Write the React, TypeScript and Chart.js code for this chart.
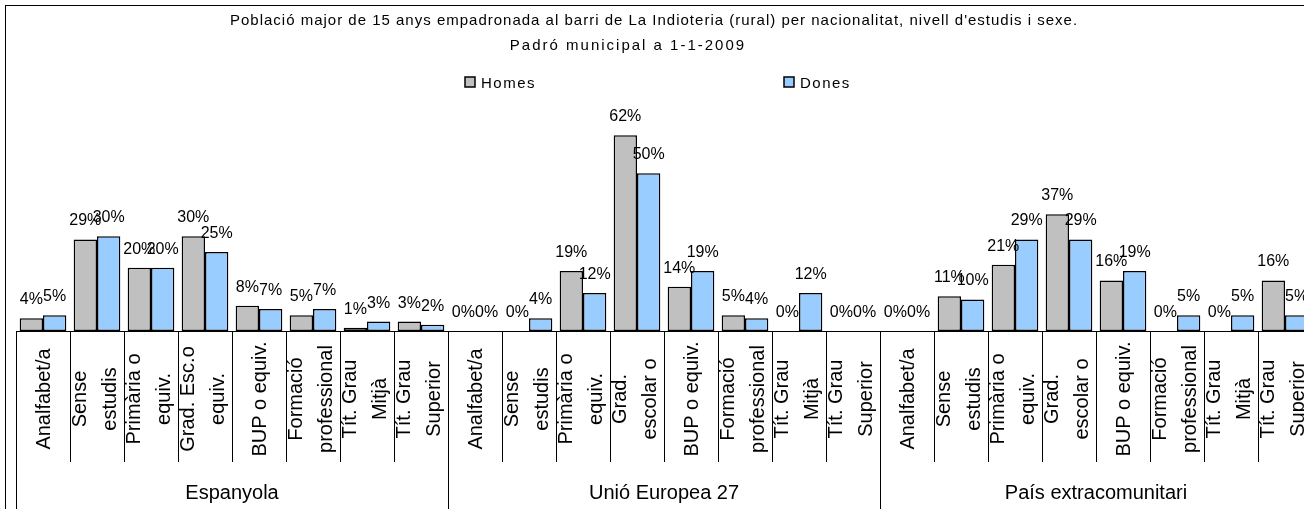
import React, { useEffect, useRef } from 'react';
import { Chart, registerables } from 'chart.js';

Chart.register(...registerables);

const titleLines = [
  "Població major de 15 anys empadronada al barri de La Indioteria (rural) per nacionalitat, nivell d'estudis i sexe.",
  'Padró municipal a 1-1-2009',
];
const seriesNames = ['Homes', 'Dones'];
const seriesColors = ['#C0C0C0', '#99CCFF'];
const groupNames = ['Espanyola', 'Unió Europea 27', 'País extracomunitari'];

const levelsEspanyola = [
  ['Analfabet/a'],
  ['Sense', 'estudis'],
  ['Primària o', 'equiv.'],
  ['Grad. Esc.o', 'equiv.'],
  ['BUP o equiv.'],
  ['Formació', 'professional'],
  ['Tít. Grau', 'Mitjà'],
  ['Tít. Grau', 'Superior'],
];
const levelsAltres = [
  ['Analfabet/a'],
  ['Sense', 'estudis'],
  ['Primària o', 'equiv.'],
  ['Grad.', 'escolar o'],
  ['BUP o equiv.'],
  ['Formació', 'professional'],
  ['Tít. Grau', 'Mitjà'],
  ['Tít. Grau', 'Superior'],
];

const homesEspanyola = [4, 29, 20, 30, 8, 5, 1, 3];
const donesEspanyola = [5, 30, 20, 25, 7, 7, 3, 2];
const homesUE = [0, 0, 19, 62, 14, 5, 0, 0];
const donesUE = [0, 4, 12, 50, 19, 4, 12, 0];
const homesExtra = [0, 11, 21, 37, 16, 0, 0, 16];
const donesExtra = [0, 10, 29, 29, 19, 5, 5, 5];

const FONT = '"Liberation Sans", Arial, sans-serif';

const categoryLines = [levelsEspanyola, levelsAltres, levelsAltres].flat();
const categoryLabels = groupNames.flatMap((g, gi) =>
  (gi === 0 ? levelsEspanyola : levelsAltres).map((l) => g + ' - ' + l.join(' '))
);
const homesAll = [...homesEspanyola, ...homesUE, ...homesExtra];
const donesAll = [...donesEspanyola, ...donesUE, ...donesExtra];
const perGroup = levelsEspanyola.length;

const overlayPlugin = {
  id: 'overlay',
  afterDatasetsDraw(chart: any) {
    const { ctx, chartArea, scales } = chart;
    const xs = scales.x;
    const base = chartArea.bottom;
    const H = chart.height;
    ctx.save();

    // data labels
    ctx.fillStyle = '#000';
    ctx.font = '16px ' + FONT;
    ctx.textAlign = 'center';
    ctx.textBaseline = 'alphabetic';
    chart.data.datasets.forEach((ds: any, di: number) => {
      const meta = chart.getDatasetMeta(di);
      meta.data.forEach((el: any, i: number) => {
        const v = ds.data[i];
        ctx.fillText(Math.round(v) + '%', el.x, el.y - 14);
      });
    });

    // axis line
    ctx.strokeStyle = '#000';
    ctx.lineWidth = 1;
    ctx.beginPath();
    ctx.moveTo(chartArea.left, Math.round(base) + 0.5);
    ctx.lineTo(chartArea.right, Math.round(base) + 0.5);
    ctx.stroke();

    const n = categoryLabels.length;
    const step = xs.getPixelForValue(1) - xs.getPixelForValue(0);
    // separators
    for (let i = 0; i <= n; i++) {
      const bx = Math.round(xs.getPixelForValue(i) - step / 2) + 0.5;
      const long = i % perGroup === 0;
      ctx.beginPath();
      ctx.moveTo(bx, base);
      ctx.lineTo(bx, long ? H : 462);
      ctx.stroke();
    }

    // category labels (rotated)
    ctx.font = '20px ' + FONT;
    ctx.textAlign = 'center';
    for (let i = 0; i < n; i++) {
      const cx = xs.getPixelForValue(i);
      const lines = categoryLines[i];
      const offs = lines.length === 1 ? [7] : [-11, 19];
      ctx.save();
      ctx.translate(cx, 399);
      ctx.rotate(-Math.PI / 2);
      lines.forEach((ln: string, li: number) => ctx.fillText(ln, 0, offs[li]));
      ctx.restore();
    }

    // group labels
    ctx.font = '20px ' + FONT;
    groupNames.forEach((g, gi) => {
      const a = xs.getPixelForValue(gi * perGroup) - step / 2;
      const b = xs.getPixelForValue(gi * perGroup + perGroup - 1) + step / 2;
      ctx.fillText(g, (a + b) / 2, 499);
    });

    // title
    ctx.font = '15px ' + FONT;
    (ctx as any).letterSpacing = '1px';
    ctx.fillText(titleLines[0], 654, 25);
    (ctx as any).letterSpacing = '2px';
    ctx.fillText(titleLines[1], 628, 50);

    // legend
    (ctx as any).letterSpacing = '1.5px';
    ctx.textAlign = 'left';
    const legendX = [465, 784];
    seriesNames.forEach((s, si) => {
      const lx = legendX[si];
      ctx.fillStyle = seriesColors[si];
      ctx.fillRect(lx, 77, 10, 10);
      ctx.strokeStyle = '#000';
      ctx.lineWidth = 1.5;
      ctx.strokeRect(lx, 77, 10, 10);
      ctx.fillStyle = '#000';
      ctx.fillText(s, lx + 16, 88);
    });
    (ctx as any).letterSpacing = '0px';

    // outer border
    ctx.strokeStyle = '#000';
    ctx.lineWidth = 1;
    ctx.strokeRect(5.5, 5.5, 1400, 600);

    ctx.restore();
  },
};

export default function App() {
  const ref = useRef<HTMLCanvasElement | null>(null);
  useEffect(() => {
    if (!ref.current) return;
    const bw = (c: any) => (c.raw === 0 ? 0 : 1.5);
    const chart = new Chart(ref.current, {
      type: 'bar',
      data: {
        labels: categoryLabels,
        datasets: [
          {
            label: seriesNames[0],
            data: homesAll,
            backgroundColor: seriesColors[0],
            borderColor: '#000',
            borderWidth: bw,
            borderSkipped: false,
            categoryPercentage: 0.864,
            barPercentage: 1,
          },
          {
            label: seriesNames[1],
            data: donesAll,
            backgroundColor: seriesColors[1],
            borderColor: '#000',
            borderWidth: bw,
            borderSkipped: false,
            categoryPercentage: 0.864,
            barPercentage: 1,
          },
        ],
      },
      options: {
        responsive: false,
        animation: false,
        devicePixelRatio: 1,
        layout: { padding: { left: 16, right: 8, top: 110, bottom: 178 } },
        plugins: { legend: { display: false }, title: { display: false }, tooltip: { enabled: false } },
        scales: {
          x: { display: false, offset: true },
          y: { display: false, min: 0, max: 70 },
        },
      },
      plugins: [overlayPlugin],
    } as any);
    return () => chart.destroy();
  }, []);
  return (
    <div style={{ position: 'absolute', left: 0, top: 0, width: 1304, height: 509, overflow: 'hidden', background: '#fff' }}>
      <canvas ref={ref} width={1320} height={509} style={{ display: 'block' }} />
    </div>
  );
}
